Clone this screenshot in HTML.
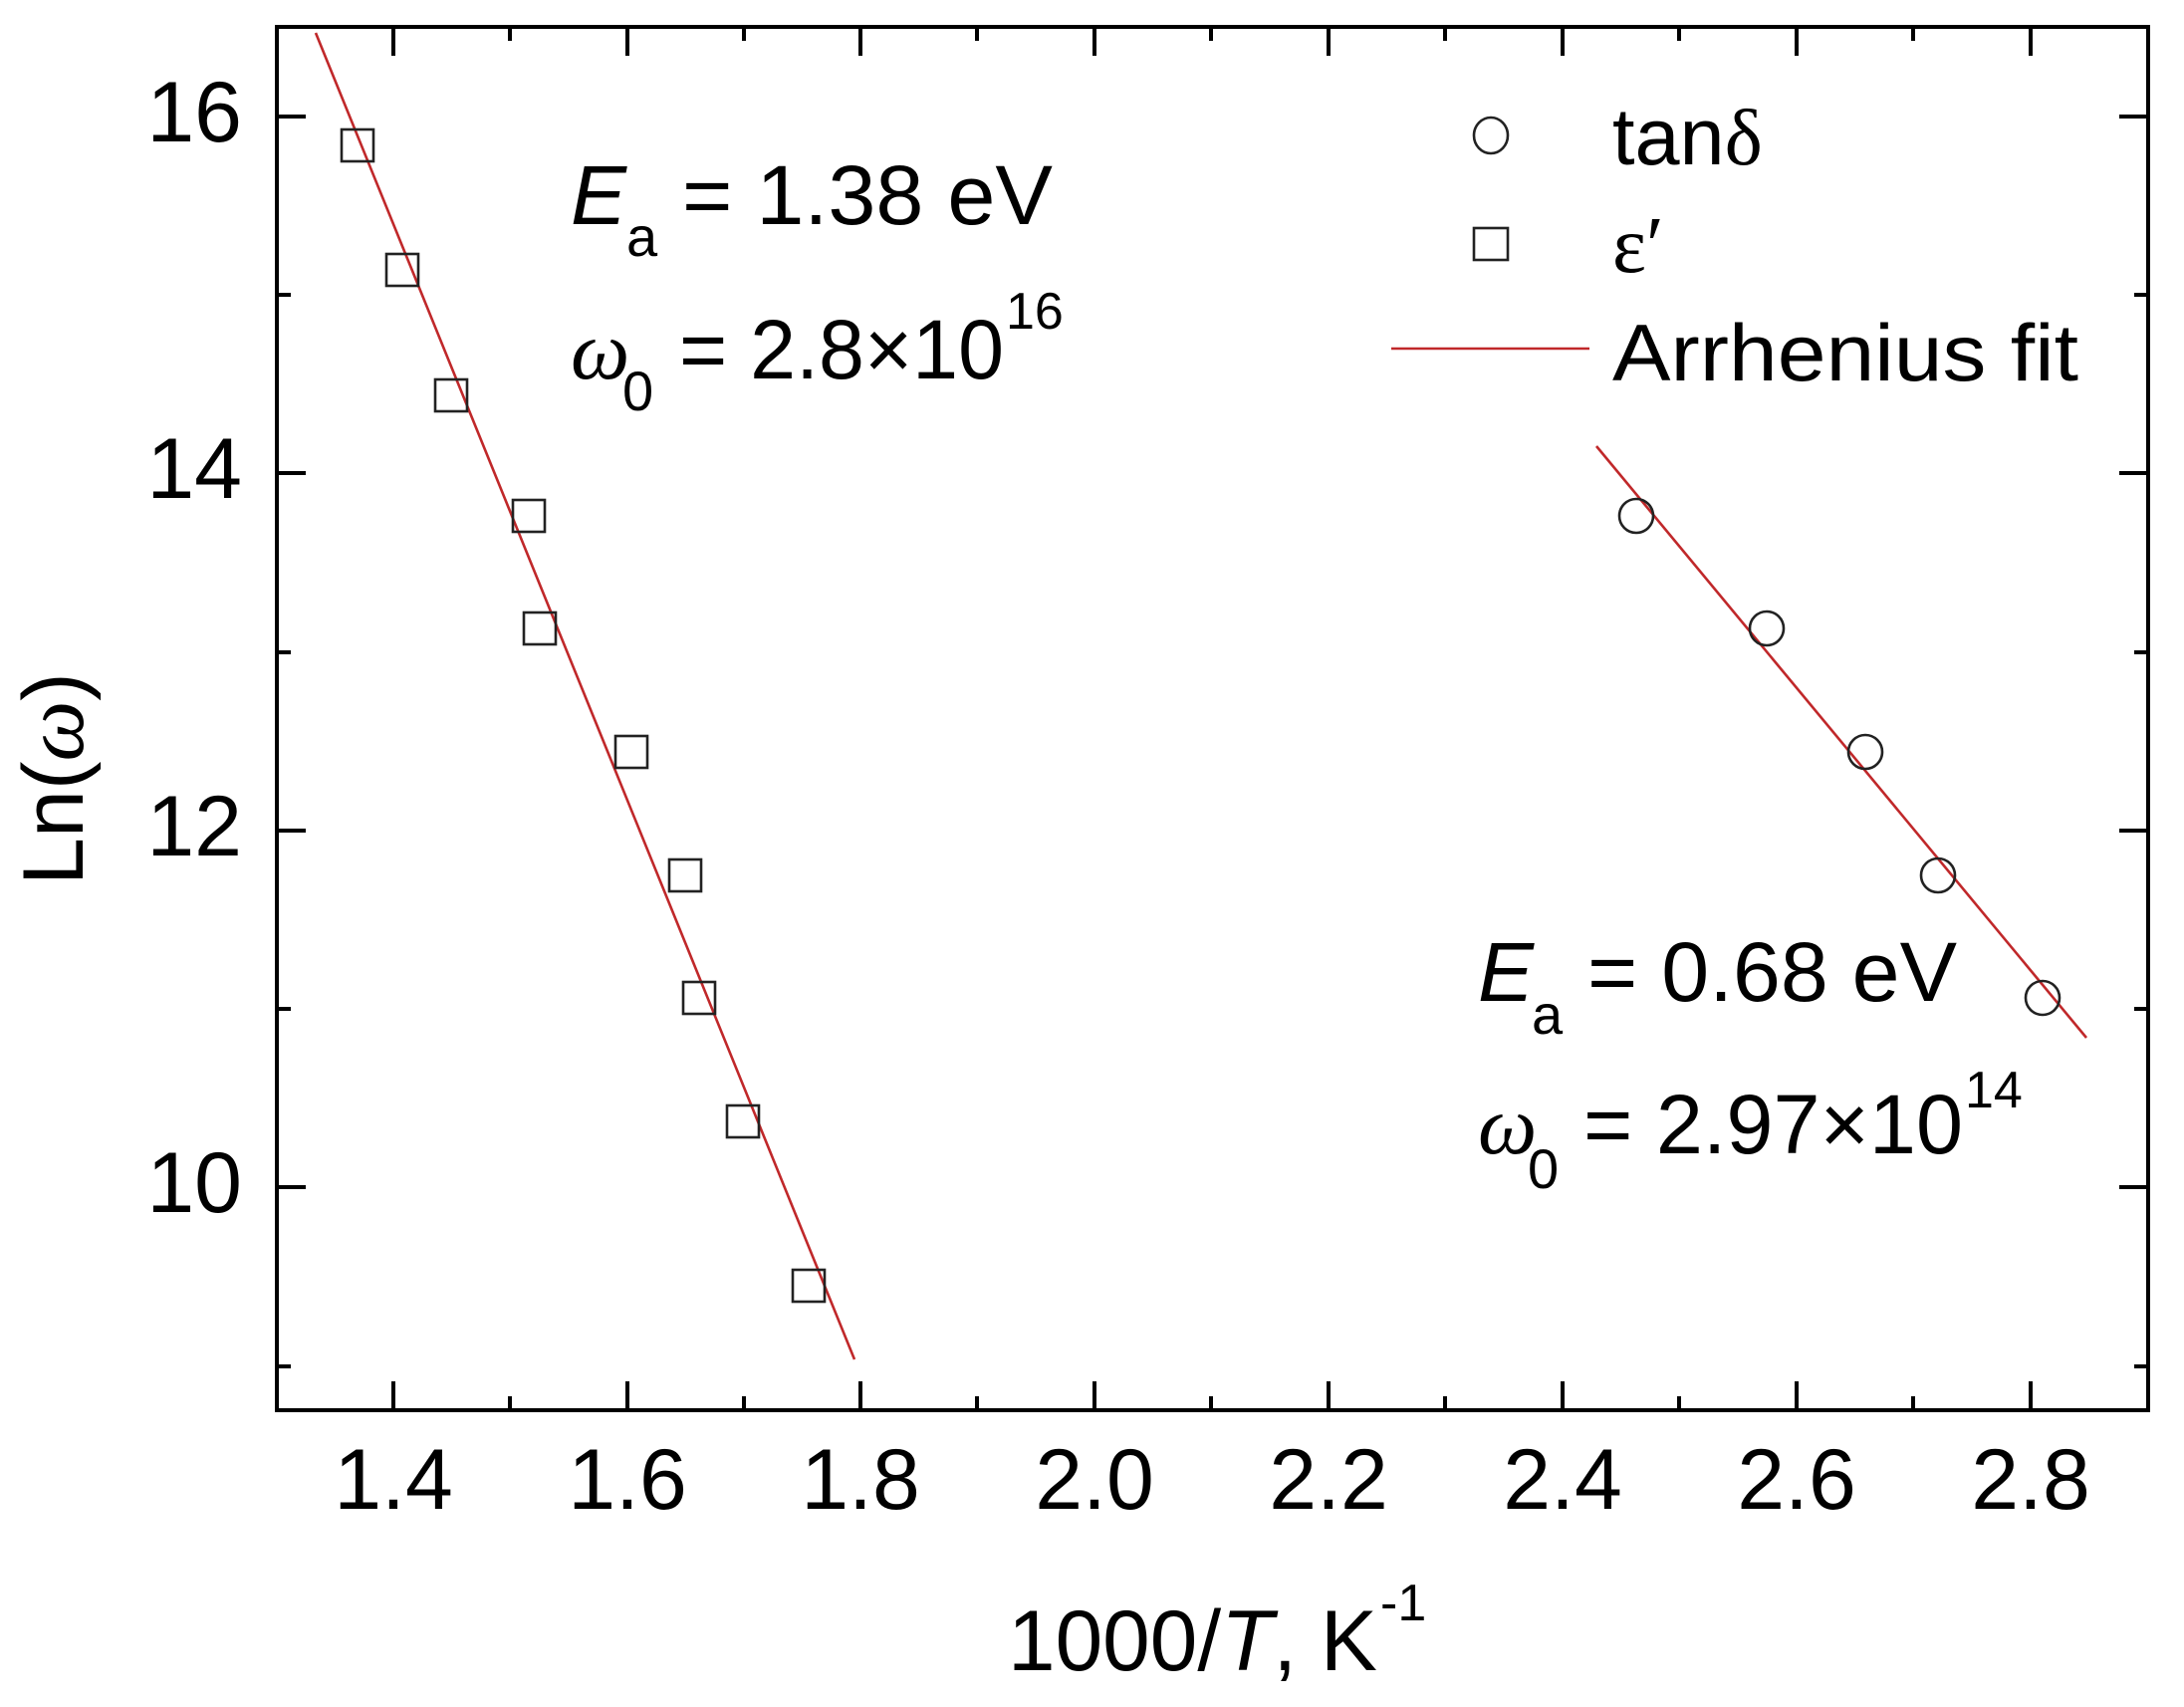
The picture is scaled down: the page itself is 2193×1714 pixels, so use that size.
<!DOCTYPE html>
<html><head><meta charset="utf-8"><style>html,body{margin:0;padding:0;background:#fff;}svg{display:block}</style></head>
<body>
<svg width="2193" height="1714" viewBox="0 0 2193 1714" xmlns="http://www.w3.org/2000/svg" font-family="'Liberation Sans', Arial, sans-serif" fill="#000">
<rect width="2193" height="1714" fill="#fff"/>
<g stroke="#000" stroke-width="4" fill="none">
<rect x="278" y="27" width="1879" height="1389"/>
<!-- x ticks bottom & top -->
<path d="M395,1416v-29M630,1416v-29M864,1416v-29M1099,1416v-29M1334,1416v-29M1569,1416v-29M1804,1416v-29M2039,1416v-29
M512,1416v-14M747,1416v-14M981,1416v-14M1216,1416v-14M1451,1416v-14M1686,1416v-14M1921,1416v-14
M395,27v29M630,27v29M864,27v29M1099,27v29M1334,27v29M1569,27v29M1804,27v29M2039,27v29
M512,27v14M747,27v14M981,27v14M1216,27v14M1451,27v14M1686,27v14M1921,27v14"/>
<!-- y ticks left & right -->
<path d="M278,117h29M278,475h29M278,834h29M278,1192h29M278,296h14M278,655h14M278,1013h14M278,1372h14
M2157,117h-29M2157,475h-29M2157,834h-29M2157,1192h-29M2157,296h-14M2157,655h-14M2157,1013h-14M2157,1372h-14"/>
</g>
<g font-size="86" text-anchor="middle">
<text x="395" y="1515">1.4</text><text x="630" y="1515">1.6</text><text x="864" y="1515">1.8</text><text x="1099" y="1515">2.0</text>
<text x="1334" y="1515">2.2</text><text x="1569" y="1515">2.4</text><text x="1804" y="1515">2.6</text><text x="2039" y="1515">2.8</text>
</g>
<g font-size="86" text-anchor="end">
<text x="243" y="142">16</text><text x="243" y="500">14</text><text x="243" y="859">12</text><text x="243" y="1217">10</text>
</g>
<!-- axis labels -->
<text transform="translate(83,782) rotate(-90)" text-anchor="middle" font-size="86">Ln(<tspan font-family="'Liberation Serif', serif" font-style="italic">ω</tspan>)</text>
<text x="1012" y="1677" font-size="86" textLength="371" lengthAdjust="spacingAndGlyphs">1000/<tspan font-style="italic">T</tspan>, K</text>
<text x="1386" y="1627" font-size="52">-1</text>
<!-- fit lines -->
<g stroke="#c0282a" stroke-width="2.6">
<line x1="317" y1="33" x2="858" y2="1365"/>
<line x1="1603" y1="448" x2="2095" y2="1042"/>
<line x1="1397" y1="350" x2="1596" y2="350"/>
</g>
<!-- squares -->
<g fill="none" stroke="#222" stroke-width="2.6">
<rect x="343" y="130" width="32" height="32"/>
<rect x="388" y="255" width="32" height="32"/>
<rect x="437" y="381" width="32" height="32"/>
<rect x="515" y="502" width="32" height="32"/>
<rect x="526" y="615" width="32" height="32"/>
<rect x="618" y="739" width="32" height="32"/>
<rect x="672" y="863" width="32" height="32"/>
<rect x="686" y="986" width="32" height="32"/>
<rect x="730" y="1110" width="32" height="32"/>
<rect x="796" y="1275" width="32" height="32"/>
<circle cx="1643" cy="518" r="17"/>
<circle cx="1774" cy="631" r="17"/>
<circle cx="1873" cy="755" r="17"/>
<circle cx="1946" cy="879" r="17"/>
<circle cx="2051" cy="1002" r="17"/>
<ellipse cx="1497" cy="136" rx="17" ry="18"/>
<rect x="1480" y="229" width="34" height="32"/>
</g>
<!-- legend text -->
<g font-size="81">
<text x="1619" y="165">tan<tspan font-family="'Liberation Serif', serif">δ</tspan></text>
<text x="1619" y="273" font-family="'Liberation Serif', serif">ε′</text>
<text x="1619" y="382" textLength="468" lengthAdjust="spacingAndGlyphs">Arrhenius fit</text>
</g>
<!-- left annotation -->
<g font-size="84">
<text x="573" y="225" font-style="italic">E</text>
<text x="629" y="257" font-size="56">a</text>
<text x="685" y="225" textLength="372" lengthAdjust="spacingAndGlyphs">= 1.38 eV</text>
<text x="573" y="380" font-family="'Liberation Serif', serif" font-style="italic">ω</text>
<text x="625" y="412" font-size="56">0</text>
<text x="682" y="380" textLength="326" lengthAdjust="spacingAndGlyphs">= 2.8×10</text>
<text x="1010" y="330" font-size="52">16</text>
</g>
<!-- right annotation -->
<g font-size="84">
<text x="1484" y="1005" font-style="italic">E</text>
<text x="1538" y="1038" font-size="56">a</text>
<text x="1594" y="1005" textLength="371" lengthAdjust="spacingAndGlyphs">= 0.68 eV</text>
<text x="1484" y="1158" font-family="'Liberation Serif', serif" font-style="italic">ω</text>
<text x="1534" y="1193" font-size="56">0</text>
<text x="1590" y="1158" textLength="381" lengthAdjust="spacingAndGlyphs">= 2.97×10</text>
<text x="1973" y="1112" font-size="52">14</text>
</g>
</svg>
</body></html>
